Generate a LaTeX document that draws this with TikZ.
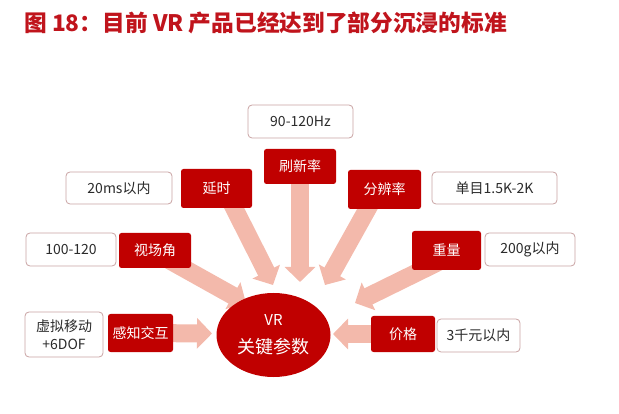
\documentclass[tikz,border=0pt]{standalone}
\usepackage{fontspec}
\setmainfont{Noto Sans CJK SC}
\usetikzlibrary{arrows.meta,shapes.geometric,backgrounds}
\definecolor{boxred}{HTML}{C00000}
\definecolor{arrowpink}{HTML}{F3B9AB}
\definecolor{edgegrey}{HTML}{C9A3A3}
\definecolor{titlered}{HTML}{C0141C}
\definecolor{textdark}{HTML}{2B2B2B}
\tikzset{
  redbox/.style 2 args={fill=boxred, rounded corners=2.5pt, text=white,
    font=\fontsize{14}{16}\selectfont, inner sep=0pt,
    minimum width=#1pt, minimum height=#2pt},
  whitebox/.style 2 args={draw=edgegrey, line width=0.8pt, fill=white,
    rounded corners=4pt, text=textdark, align=center,
    font=\fontsize{14}{18}\selectfont, inner sep=0pt,
    minimum width=#1pt, minimum height=#2pt},
  bigarrow/.style={draw=arrowpink, line width=18pt,
    -{Triangle[width=30pt,length=15pt]}},
}
\begin{document}
\begin{tikzpicture}[x=1pt,y=-1pt]
\useasboundingbox (0,0) rectangle (619,414);

\node[anchor=west, text=titlered, font=\bfseries\fontsize{22.7}{24}\selectfont, inner sep=0pt]
  (title) at (24,23) {图 18：目前 VR 产品已经达到了部分沉浸的标准};

% value boxes
\node[whitebox={105}{33}] (hz) at (300.5,121.5) {90-120Hz};
\node[whitebox={106}{32}] (ms) at (119,188) {20ms以内};
\node[whitebox={90}{33}] (fov) at (71,249.5) {100-120};
\node[whitebox={125}{32}] (res) at (494.5,188) {单目1.5K-2K};
\node[whitebox={90}{33}] (wt) at (530,249.5) {200g以内};
\node[whitebox={78}{45}] (move) at (64,334.5) {虚拟移动\\+6DOF};
\node[whitebox={83}{33}] (price) at (478.5,335.5) {3千元以内};

% parameter boxes
\node[redbox={72}{35}] (shuaxin) at (300,166.5) {刷新率};
\node[redbox={71}{39}] (yanshi) at (216.5,188.5) {延时};
\node[redbox={72}{35}] (shichang) at (155,250.5) {视场角};
\node[redbox={73}{39}] (fenbian) at (384.5,189.5) {分辨率};
\node[redbox={69}{39}] (zhongliang) at (446.5,250.5) {重量};
\node[redbox={65}{38}] (ganzhi) at (140.5,333) {感知交互};
\node[redbox={64}{36}] (jiage) at (403,334) {价格};

% centre
\node[ellipse, fill=boxred, text=white, inner sep=0pt, align=center,
  minimum width=114pt, minimum height=84pt] (vr) at (273.5,335)
  {{\fontsize{15}{17}\selectfont VR}\\[12pt]{\fontsize{18}{20}\selectfont 关键参数}};

\coordinate (t1) at (273,285);
\coordinate (t2) at (300,282);
\coordinate (t3) at (325,285);
\coordinate (t4) at (246,303);
\coordinate (t5) at (355,303);
\coordinate (t6) at (212,333.5);
\coordinate (t7) at (333,334);

\begin{scope}[on background layer]
\draw[bigarrow] ([shift={(8.5,1.5)}]yanshi.center) -- (t1);
\draw[bigarrow] (shuaxin.center) -- (t2);
\draw[bigarrow] ([shift={(-6.5,0.5)}]fenbian.center) -- (t3);
\draw[bigarrow] ([shift={(5,4.5)}]shichang.center) -- (t4);
\draw[bigarrow] ([shift={(0,7.5)}]zhongliang.center) -- (t5);
\draw[bigarrow] (ganzhi.center) -- (t6);
\draw[bigarrow] (jiage.center) -- (t7);
\end{scope}
\end{tikzpicture}
\end{document}
